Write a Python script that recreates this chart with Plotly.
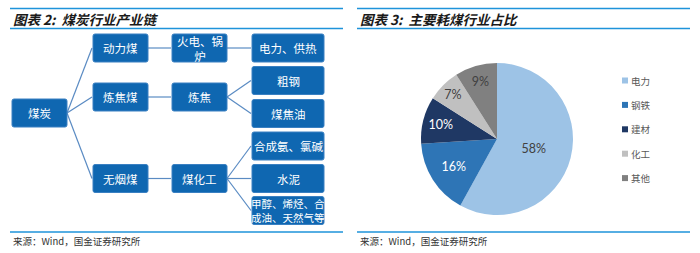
import plotly.graph_objects as go

W, H = 700, 253

# ---- Data ----
chart_titles = ["图表 2:  煤炭行业产业链", "图表 3:  主要耗煤行业占比"]
source_text = "来源：Wind，国金证券研究所"

# Flowchart nodes (label, column, row-center in px) and edges
node_labels = ["煤炭", "动力煤", "炼焦煤", "无烟煤", "火电、锅<br>炉", "炼焦", "煤化工",
               "电力、供热", "粗钢", "煤焦油", "合成氨、氯碱", "水泥", "甲醇、烯烃、合<br>成油、天然气等"]
node_cols = [0, 1, 1, 1, 2, 2, 2, 3, 3, 3, 3, 3, 3]
node_rows = [113, 48, 97, 178.5, 48, 97, 178.5, 48, 80.5, 113.5, 146, 178.5, 210.5]
edges = [(0, 1), (0, 2), (0, 3), (1, 4), (2, 5), (3, 6), (4, 7), (5, 8), (5, 9), (6, 10), (6, 11), (6, 12)]

# Pie data
pie_labels = ["电力", "钢铁", "建材", "化工", "其他"]
pie_values = [58, 16, 10, 7, 9]
pie_colors = ["#9DC3E6", "#2E75B6", "#1F3864", "#C0C0C0", "#808080"]
pie_text_colors = ["#404040", "#FFFFFF", "#FFFFFF", "#404040", "#404040"]

# ---- Layout constants ----
col_x = [(12, 67), (93, 148), (172, 227), (252, 324)]
box_h = 28
box_fill = "#0F67B1"
box_line = "#3A80C2"
edge_color = "#5A8BC3"
rule_color = "#1E93DA"

fig = go.Figure()

shapes = []
annotations = []

# flowchart edges
for a, b in edges:
    xa = col_x[node_cols[a]][1]
    xb = col_x[node_cols[b]][0]
    shapes.append(dict(type="line", xref="x", yref="y", x0=xa, y0=node_rows[a], x1=xb - 1, y1=node_rows[b],
                       line=dict(color=edge_color, width=1.2), layer="below"))

# flowchart boxes
def rounded(x0, y0, x1, y1, r=2):
    return (f"M{x0+r},{y0} L{x1-r},{y0} Q{x1},{y0} {x1},{y0+r} L{x1},{y1-r} Q{x1},{y1} {x1-r},{y1} "
            f"L{x0+r},{y1} Q{x0},{y1} {x0},{y1-r} L{x0},{y0+r} Q{x0},{y0} {x0+r},{y0} Z")

for lab, c, yc in zip(node_labels, node_cols, node_rows):
    x0, x1 = col_x[c]
    y0, y1 = yc - box_h / 2, yc + box_h / 2
    shapes.append(dict(type="path", xref="x", yref="y", path=rounded(x0, y0, x1, y1),
                       fillcolor=box_fill, line=dict(color=box_line, width=1)))
    fs = 10.5 if "<br>" in lab and len(lab) > 12 else 11.5
    annotations.append(dict(x=(x0 + x1) / 2, y=yc, xref="x", yref="y", text=lab, showarrow=False,
                            font=dict(family="Noto Sans CJK SC", size=fs, color="white"),
                            xanchor="center", yanchor="middle", align="center"))

# header / footer rules and texts
panels = [(10, 343), (357, 690)]
for (x0, x1), title in zip(panels, chart_titles):
    for yy in (8.5, 28.5, 232):
        shapes.append(dict(type="line", xref="x", yref="y", x0=x0, x1=x1, y0=yy, y1=yy,
                           line=dict(color=rule_color, width=1.5)))
    annotations.append(dict(x=x0 + 1, y=18.5, xref="x", yref="y", text=f"<b><i>{title}</i></b>",
                            showarrow=False, xanchor="left", yanchor="middle",
                            font=dict(family="Noto Sans CJK SC", size=13.5, color="#1A1A1A")))
    annotations.append(dict(x=x0 + 1, y=241, xref="x", yref="y", text=source_text,
                            showarrow=False, xanchor="left", yanchor="middle",
                            font=dict(family="Noto Sans CJK SC", size=9.5, color="#333333")))

# Pie
cx, cy, r = 497, 139, 76
fig.add_trace(go.Pie(
    labels=pie_labels, values=pie_values, sort=False, direction="clockwise", rotation=0,
    marker=dict(colors=pie_colors, line=dict(width=0)),
    textinfo="percent", texttemplate="%{percent:.0%}", textposition="inside",
    insidetextorientation="horizontal",
    insidetextfont=dict(family="Lato", size=12.5, color=pie_text_colors),
    domain=dict(x=[(cx - r) / W, (cx + r) / W], y=[(H - cy - r) / H, (H - cy + r) / H]),
    showlegend=False, hoverinfo="label+percent",
))

# manual legend
leg_x, leg_y0, leg_dy = 622, 80.5, 24.4
for i, (lab, col) in enumerate(zip(pie_labels, pie_colors)):
    yy = leg_y0 + i * leg_dy
    shapes.append(dict(type="rect", xref="x", yref="y", x0=leg_x, x1=leg_x + 6, y0=yy - 3, y1=yy + 3,
                       fillcolor=col, line=dict(width=0)))
    annotations.append(dict(x=leg_x + 7, y=yy, xref="x", yref="y", text=lab, showarrow=False,
                            xanchor="left", yanchor="middle",
                            font=dict(family="Noto Sans CJK SC", size=9.5, color="#595959")))

# invisible trace to anchor the pixel axes
fig.add_trace(go.Scatter(x=[0, W], y=[0, H], mode="markers", marker=dict(opacity=0),
                         showlegend=False, hoverinfo="skip"))

fig.update_layout(
    width=W, height=H, margin=dict(l=0, r=0, t=0, b=0),
    paper_bgcolor="white", plot_bgcolor="rgba(0,0,0,0)",
    xaxis=dict(range=[0, W], visible=False, fixedrange=True, domain=[0, 1]),
    yaxis=dict(range=[H, 0], visible=False, fixedrange=True, domain=[0, 1]),
    shapes=shapes, annotations=annotations, showlegend=False,
)

fig.write_html("out.html")
